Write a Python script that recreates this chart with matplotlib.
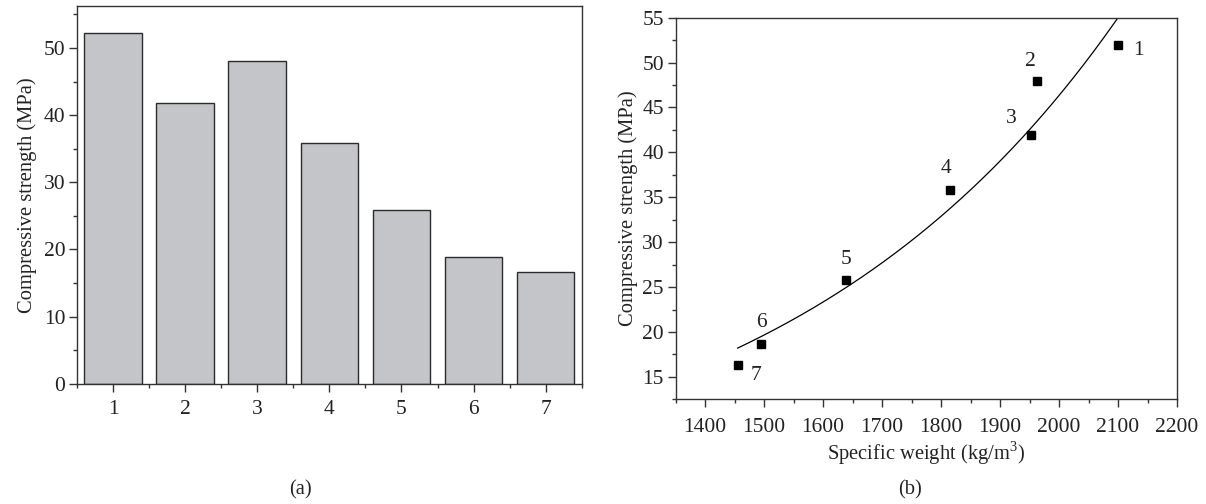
import numpy as np
import matplotlib
matplotlib.use("Agg")
import matplotlib.pyplot as plt
from matplotlib.ticker import MultipleLocator

plt.rcParams['font.family'] = ['Liberation Serif', 'DejaVu Serif']
plt.rcParams['mathtext.fontset'] = 'custom'
plt.rcParams['mathtext.rm'] = 'Liberation Serif'

# ---- data ----
mix_ids = [1, 2, 3, 4, 5, 6, 7]
strength = [52.2, 41.8, 48.1, 35.9, 25.8, 18.8, 16.6]

weight_x = [2100, 1962, 1952, 1815, 1639, 1495, 1455]
strength_y = [52.0, 47.9, 41.9, 35.8, 25.8, 18.7, 16.3]
point_labels = ['1', '2', '3', '4', '5', '6', '7']
label_x = [2135, 1952, 1919, 1808, 1639, 1495, 1487]
label_y = [51.4, 50.1, 43.8, 38.2, 28.1, 21.1, 15.1]

# exponential fit y = A * exp(B * x)
fit_A = 1.502
fit_B = 0.0017146

FS_TICK = 15.5
FS_LAB = 14.8
spine_col = '#333333'
txt_col = '#222222'

fig = plt.figure(figsize=(12.06, 5.04), dpi=100)

# ---- left: bar chart ----
ax1 = fig.add_axes([77/1206, 1-383.7/504, (581.7-77)/1206, (383.7-6)/504])
ax1.bar(mix_ids, strength, width=0.8, color='#c4c5c9', edgecolor='#2b2b2b', linewidth=1.0)
ax1.set_xlim(0.5, 7.5)
ax1.set_ylim(0, 56.25)
ax1.set_xticks(mix_ids)
ax1.xaxis.set_minor_locator(MultipleLocator(1.0, offset=0.5))
ax1.yaxis.set_major_locator(MultipleLocator(10))
ax1.yaxis.set_minor_locator(MultipleLocator(5))
ax1.set_ylabel('Compressive strength (MPa)', fontsize=FS_LAB, color=txt_col, labelpad=5)

# ---- right: scatter with fit ----
ax2 = fig.add_axes([675.7/1206, 1-399.3/504, (1177-675.7)/1206, (399.3-17.7)/504])
ax2.plot(weight_x, strength_y, linestyle='none', marker='s', markersize=5.3,
         color='black', zorder=3)
xs = np.linspace(min(weight_x), max(weight_x), 300)
ax2.plot(xs, fit_A*np.exp(fit_B*xs), color='black', linewidth=0.9)
for lx, ly, t in zip(label_x, label_y, point_labels):
    ax2.text(lx, ly, t, fontsize=FS_TICK, ha='center', va='center', color=txt_col)
ax2.set_xlim(1350, 2200)
ax2.set_ylim(12.5, 55)
ax2.xaxis.set_major_locator(MultipleLocator(100))
ax2.xaxis.set_minor_locator(MultipleLocator(50))
ax2.yaxis.set_major_locator(MultipleLocator(5))
ax2.yaxis.set_minor_locator(MultipleLocator(2.5))
ax2.set_ylabel('Compressive strength (MPa)', fontsize=FS_LAB, color=txt_col, labelpad=3)
ax2.set_xlabel('Specific weight (kg/m$^3$)', fontsize=FS_LAB, color=txt_col, labelpad=2)

for ax in (ax1, ax2):
    for s in ax.spines.values():
        s.set_color(spine_col)
        s.set_linewidth(1.0)
    ax.tick_params(which='major', direction='out', length=5.5, width=1.0,
                   colors=spine_col, labelcolor=txt_col, labelsize=FS_TICK, pad=3)
    ax.tick_params(which='minor', direction='out', length=3, width=1.0, colors=spine_col)
    ax.tick_params(top=False, right=False, which='both')
ax1.tick_params(axis='x', which='major', pad=6)
ax2.tick_params(axis='x', which='major', pad=8)

fig.text(300/1206, 1-490/504, '(a)', fontsize=FS_LAB, ha='center', va='center', color=txt_col)
fig.text(910/1206, 1-490/504, '(b)', fontsize=FS_LAB, ha='center', va='center', color=txt_col)

fig.savefig('out.png', dpi=100)
